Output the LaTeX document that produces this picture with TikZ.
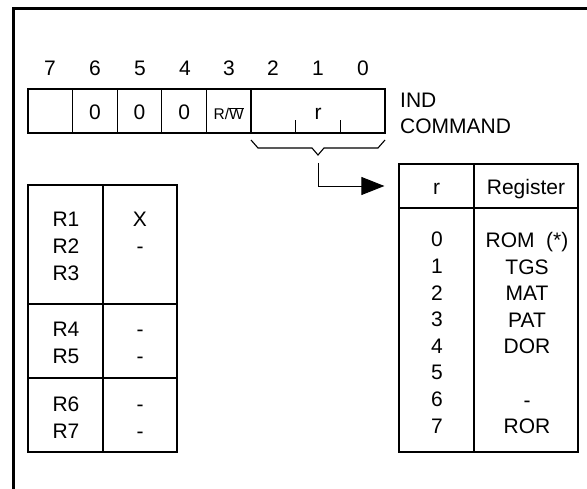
\documentclass[tikz,border=0pt]{standalone}
\usepackage{fontspec}
\setmainfont{Liberation Sans}
\usepackage{tikz}
\usetikzlibrary{arrows.meta,calc}

\begin{document}
\begin{tikzpicture}[x=1pt,y=-1pt,
      cell/.style={draw,line width=1.2pt,minimum width=44.6pt,minimum height=44pt,
                   inner sep=0pt,text height=18pt,text depth=0pt,
                   font=\fontsize{21}{26}\selectfont},
      box/.style={draw,line width=1.2pt,inner sep=0pt},
      num/.style={font=\fontsize{21}{26}\selectfont,inner sep=0pt},
      col/.style={anchor=north,inner sep=0pt,align=center,
                  font=\fontsize{21}{27}\selectfont},
      arr/.style={-{Triangle[length=23pt,width=18pt]},line width=0.9pt}
    ]
      \useasboundingbox (0,0) rectangle (587,489);
      % Frame
      \draw[line width=2.2pt] (13.5,489) -- (13.5,8.5) -- (587,8.5);
      % Bit numbers
      \node[num] (n7) at (50,68.5) {7};
      \node[num] (n6) at (95,68.5) {6};
      \node[num] (n5) at (140,68.5) {5};
      \node[num] (n4) at (185,68.5) {4};
      \node[num] (n3) at (229,68.5) {3};
      \node[num] (n2) at (273,68.5) {2};
      \node[num] (n1) at (318,68.5) {1};
      \node[num] (n0) at (363,68.5) {0};
      % IND command byte
      \node[cell] (b7) at (50.3,111) {};
      \node[cell] (b6) at (94.9,111) {0};
      \node[cell] (b5) at (139.5,111) {0};
      \node[cell] (b4) at (184.1,111) {0};
      \node[cell,font=\fontsize{15.5}{18}\selectfont] (b3) at (228.7,111) {R/$\overline{\mbox{W}}$};
      \node[cell,minimum width=134pt] (fld) at (318,111) {r};
      \draw[line width=1.2pt] ($(fld.south west)!1/3!(fld.south east)$) -- ++(0,-14);
      \draw[line width=1.2pt] ($(fld.south west)!2/3!(fld.south east)$) -- ++(0,-14);
      \node[anchor=north west,inner sep=0pt,align=left,font=\fontsize{21}{26}\selectfont]
        (cmd) at (400,93) {IND\\COMMAND};
      % Brace and arrow
      \draw[line width=1.1pt] (251,140) -- (258,148) -- (312,148) -- (318,155)
        -- (324,148) -- (378,148) -- (385,140);
      \coordinate (tip) at (318,163);
      % Register table
      \node[cell,minimum width=75pt] (hr) at (436.5,186) {r};
      \node[cell,minimum width=104pt] (hreg) at (526,186) {Register};
      \node[box,minimum width=75pt,minimum height=244pt] (br) at (436.5,330) {};
      \node[box,minimum width=104pt,minimum height=244pt] (breg) at (526,330) {};
      \node[col,font=\fontsize{21}{26.6}\selectfont] (rnum) at (437,232)
        {0\\1\\2\\3\\4\\5\\6\\7};
      \node[col,font=\fontsize{21}{26.6}\selectfont] (rreg) at (527,232)
        {ROM\ \ (*)\\TGS\\MAT\\PAT\\DOR\\\mbox{}\\-\\ROR};
      \draw[arr,shorten >=14pt] (tip) |- (hr.west);
      % R1..R7 table
      \node[box,minimum width=75pt,minimum height=119pt] (g1) at (65.5,244.5) {};
      \node[box,minimum width=74pt,minimum height=119pt] (v1) at (140,244.5) {};
      \node[box,minimum width=75pt,minimum height=74pt] (g2) at (65.5,341) {};
      \node[box,minimum width=74pt,minimum height=74pt] (v2) at (140,341) {};
      \node[box,minimum width=75pt,minimum height=74pt] (g3) at (65.5,415) {};
      \node[box,minimum width=74pt,minimum height=74pt] (v3) at (140,415) {};
      \node[col] (r1) at (66,212) {R1\\R2\\R3};
      \node[col] (x1) at (140,212) {X\\-};
      \node[col] (r2) at (66,322) {R4\\R5};
      \node[col] (x2) at (140,322) {\vphantom{R}-\\-};
      \node[col] (r3) at (66,397) {R6\\R7};
      \node[col] (x3) at (140,397) {\vphantom{R}-\\-};
    \end{tikzpicture}
\end{document}
